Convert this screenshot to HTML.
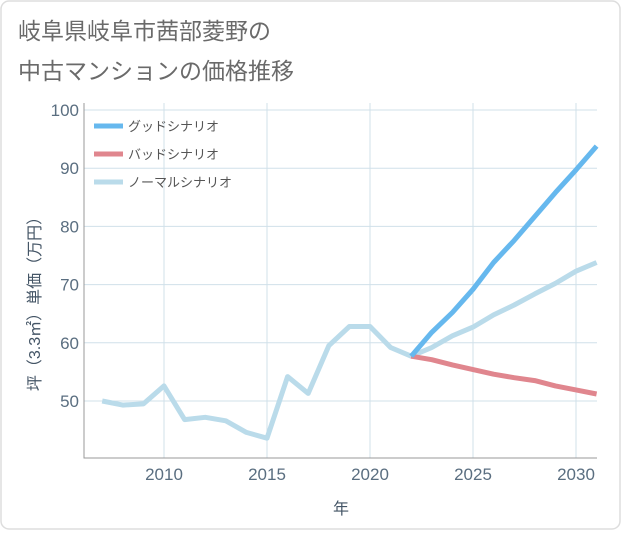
<!DOCTYPE html>
<html><head><meta charset="utf-8"><style>
body{margin:0;background:#fff;}
#wrap{position:relative;width:621px;height:530px;font-family:"Liberation Sans","Noto Sans CJK JP",sans-serif;}
</style></head><body>
<div id="wrap">
<svg id="chart" width="621" height="530" xmlns="http://www.w3.org/2000/svg">
<rect x="1" y="1" width="619" height="528" rx="8" fill="#fff" stroke="#ddd" stroke-width="1.5"/>
<text x="18" y="39" font-size="23" fill="#6a6a6a" font-family="Liberation Sans, Noto Sans CJK JP, sans-serif">岐阜県岐阜市茜部菱野の</text>
<text x="18" y="79" font-size="23" fill="#6a6a6a" font-family="Liberation Sans, Noto Sans CJK JP, sans-serif">中古マンションの価格推移</text>
<g id="grid"></g>
<g id="axes"></g>
<g id="series"></g>
<g id="legend"></g>
<text x="0" y="0" transform="translate(40,300) rotate(-90)" text-anchor="middle" font-size="16" fill="#456" font-family="Liberation Sans, Noto Sans CJK JP, sans-serif">坪（3.3㎡）単価（万円）</text>
<text x="341" y="514" text-anchor="middle" font-size="16" fill="#456" font-family="Liberation Sans, Noto Sans CJK JP, sans-serif">年</text>
</svg>
</div>
<script>
const years=[2007,2008,2009,2010,2011,2012,2013,2014,2015,2016,2017,2018,2019,2020,2021,2022,2023,2024,2025,2026,2027,2028,2029,2030,2031];
const normalValues=[50,49.3,49.5,52.6,46.8,47.2,46.6,44.6,43.6,54.2,51.3,59.5,62.8,62.8,59.2,57.7,59.2,61.2,62.7,64.8,66.5,68.4,70.2,72.3,73.8];
const scenarioYears=[2022,2023,2024,2025,2026,2027,2028,2029,2030,2031];
const goodValues=[57.7,61.8,65.2,69.2,73.8,77.6,81.7,85.8,89.7,93.8];
const badValues=[57.7,57.1,56.2,55.4,54.6,54,53.5,52.6,51.9,51.2];
const xTicks=[2010,2015,2020,2025,2030];
const yTicks=[50,60,70,80,90,100];
const NS="http://www.w3.org/2000/svg";
const L=84,R=597,T=103,B=458;
function xs(v){return 164+(v-2010)*20.6;}
function ys(v){return 401-(v-50)*5.82;}
function mk(tag,attrs,parent){const e=document.createElementNS(NS,tag);for(const k in attrs)e.setAttribute(k,attrs[k]);document.getElementById(parent).appendChild(e);return e;}
xTicks.forEach(t=>{
 const g=mk('line',{x1:xs(t),x2:xs(t),y1:T,y2:B,stroke:'#d0e0ea','stroke-width':1},'grid');
 
 
 const tx=mk('text',{x:xs(t),y:B+22,'text-anchor':'middle','font-size':17,fill:'#5a6e80'},'axes');
 tx.textContent=t;
 
 
});
yTicks.forEach(t=>{
 const g=mk('line',{x1:L,x2:R,y1:ys(t),y2:ys(t),stroke:'#d0e0ea','stroke-width':1},'grid');
 
 
 const tx=mk('text',{x:L-5,y:ys(t)+6,'text-anchor':'end','font-size':17,fill:'#5a6e80'},'axes');
 tx.textContent=t;
 
 
});
const ax=mk('path',{d:`M${L},${T} V${B} H${R}`,fill:'none',stroke:'#999','stroke-width':1},'axes');


function line(xv,yv,color,name){
 const d=xv.map((x,i)=>(i?'L':'M')+xs(x).toFixed(1)+','+ys(yv[i]).toFixed(1)).join(' ');
 const p=mk('path',{d:d,fill:'none',stroke:color,'stroke-width':5,'stroke-linejoin':'round','stroke-linecap':'butt'},'series');
 
 
}
line(years,normalValues,'#badbea','normal-scenario-line');
line(scenarioYears,badValues,'#e0868e','bad-scenario-line');
line(scenarioYears,goodValues,'#66b8ee','good-scenario-line');
const leg=[['グッドシナリオ','#66b8ee'],['バッドシナリオ','#e0868e'],['ノーマルシナリオ','#badbea']];
leg.forEach((l,i)=>{
 const y=126+i*28;
 const r=mk('line',{x1:94,x2:123,y1:y,y2:y,stroke:l[1],'stroke-width':5},'legend');
 
 
 const t=mk('text',{x:128,y:y+5,'font-size':13,fill:'#555'},'legend');
 t.textContent=l[0];
 
 
});
</script>
</body></html>
